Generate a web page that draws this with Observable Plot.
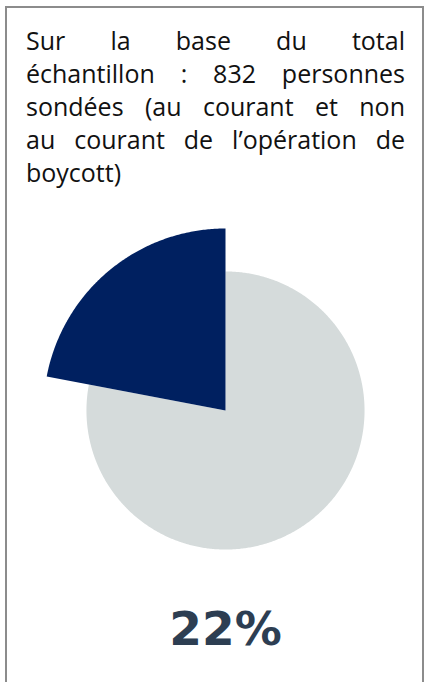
<!DOCTYPE html>
<html>
<head>
<meta charset="utf-8">
<script src="https://cdn.jsdelivr.net/npm/d3@7"></script>
<script src="https://cdn.jsdelivr.net/npm/@observablehq/plot@0.6"></script>
<style>
  html, body { margin: 0; padding: 0; background: #fff; width: 424px; height: 682px; overflow: hidden; }
  #frame { position: absolute; left: 5px; top: 6px; width: 415px; height: 700px;
           border: 2px solid #8c8c8c; border-bottom: none; }
  #caption { position: absolute; left: 26px; top: 24px; width: 379px;
             font-family: "Open Sans", Lato, sans-serif; font-size: 25px; line-height: 33px; color: #111; }
  #caption .l { display: block; white-space: nowrap; text-align: justify; text-align-last: justify; }
  #caption .last { text-align: left; text-align-last: left; }
  #chart { position: absolute; left: 0; top: 210px; }
</style>
</head>
<body>
<div id="frame"></div>
<div id="caption"></div>
<div id="chart"></div>
<script>
// --- data ---
const captionLines = [
  "Sur la base du total",
  "échantillon : 832 personnes",
  "sondées (au courant et non",
  "au courant de l’opération de",
  "boycott)"
];
const categories = ["Non au courant", "Au courant"];
const values = [78, 22];
const colors = ["#d5dbdb", "#002060"];
const highlightLabel = "22%";

// caption
const cap = document.getElementById("caption");
captionLines.forEach((t, i) => {
  const s = document.createElement("span");
  s.className = "l" + (i === captionLines.length - 1 ? " last" : "");
  s.textContent = t;
  cap.appendChild(s);
});

// pie geometry (derived from values)
const total = d3.sum(values);
const radii = [0.764, 1]; // relative outer radius per slice
const pts = [];
let acc = 0;
values.forEach((v, i) => {
  const a0 = acc / total * 2 * Math.PI;
  acc += v;
  const a1 = acc / total * 2 * Math.PI;
  const r = radii[i];
  pts.push({cat: categories[i], x: 0, y: 0});
  const n = Math.max(2, Math.ceil((a1 - a0) / (Math.PI / 360)));
  for (let k = 0; k <= n; k++) {
    const a = a0 + (a1 - a0) * k / n;
    pts.push({cat: categories[i], x: r * Math.sin(a), y: r * Math.cos(a)});
  }
  pts.push({cat: categories[i], x: 0, y: 0});
});

const W = 424, H = 472, R = 182, cx = 225, cy = 200;
const chart = Plot.plot({
  width: W,
  height: H,
  margin: 0,
  x: {domain: [-cx / R, (W - cx) / R], axis: null},
  y: {domain: [-(H - cy) / R, cy / R], axis: null},
  color: {domain: categories, range: colors},
  marks: [
    Plot.line(pts, {x: "x", y: "y", z: "cat", fill: "cat", stroke: "none", curve: "linear"}),
    Plot.text([highlightLabel], {
      text: d => d, x: () => 0, frameAnchor: "bottom", lineAnchor: "bottom", dy: -38,
      fontFamily: "DejaVu Sans", fontWeight: "bold", fontSize: 47, fill: "#2d3e52"
    })
  ]
});
document.getElementById("chart").appendChild(chart);
</script>
</body>
</html>
